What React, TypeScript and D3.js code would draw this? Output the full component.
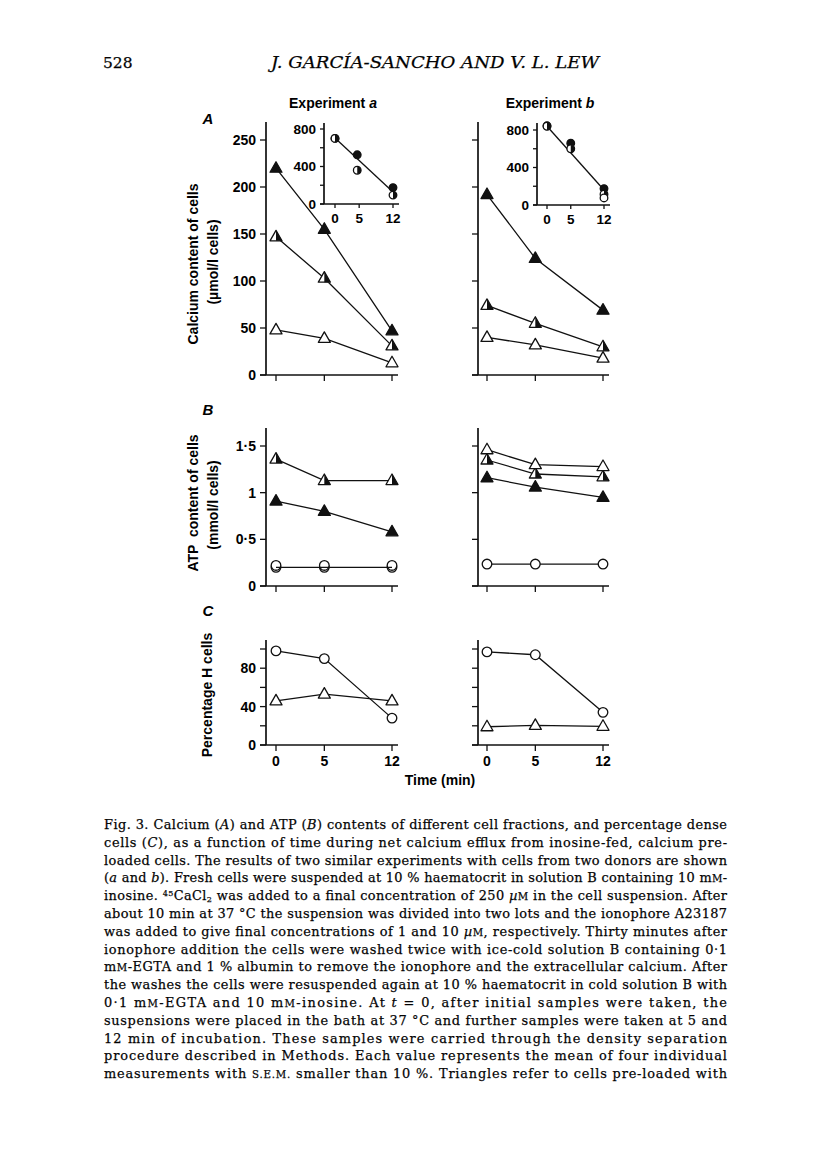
import React, { useEffect, useRef } from 'react';
import * as d3 from 'd3';

const times = [0, 5, 12];

// A: calcium content (µmol/l cells)
const caA_filled = [220, 155, 47];
const caA_half = [147, 103, 31];
const caA_open = [48, 39, 13];
const caB_filled = [192, 124, 69];
const caB_half = [74, 55, 30];
const caB_open = [40, 32, 18];

// insets (A, total calcium)
const insetA_filledT = [0, 4.6, 12];
const insetA_filledV = [700, 525, 175];
const insetA_halfT = [0, 4.6, 12];
const insetA_halfV = [700, 360, 95];
const insetA_fitT = [0, 12];
const insetA_fitV = [704, 128];
const insetB_filledT = [0, 5, 12];
const insetB_filledV = [845, 660, 175];
const insetB_halfT = [0, 5, 12];
const insetB_halfV = [840, 600, 115];
const insetB_openT = [12];
const insetB_openV = [75];
const insetB_fitT = [0, 12];
const insetB_fitV = [840, 160];

// B: ATP content (mmol/l cells)
const atpA_half = [1.36, 1.13, 1.13];
const atpA_filled = [0.91, 0.8, 0.58];
const atpA_circle = [0.22, 0.22, 0.22];
const atpA_circleLow = [0.2, 0.2, 0.2];
const atpB_open = [1.46, 1.3, 1.28];
const atpB_half = [1.35, 1.2, 1.17];
const atpB_filled = [1.16, 1.06, 0.95];
const atpB_circle = [0.235, 0.235, 0.235];

// C: percentage H cells
const hA_circle = [98, 90, 28];
const hA_open = [46, 53, 46];
const hB_circle = [97, 94, 34];
const hB_open = [19, 20.5, 19.5];

const caTicks = [0, 50, 100, 150, 200, 250];
const atpTicks = [0, 0.5, 1, 1.5];
const atpLabels = ['0', '0·5', '1', '1·5'];
const hTicks = [0, 20, 40, 60, 80, 100];
const hLabelTicks = [0, 40, 80];
const insetTicks = [0, 200, 400, 600, 800];
const insetLabelTicks = [0, 400, 800];

// _italic_  ^small caps^  {sup}  [sub]
const caption = [
  'Fig. 3. Calcium (_A_) and ATP (_B_) contents of different cell fractions, and percentage dense',
  'cells (_C_), as a function of time during net calcium efflux from inosine-fed, calcium pre-',
  'loaded cells. The results of two similar experiments with cells from two donors are shown',
  '(_a_ and _b_). Fresh cells were suspended at 10 % haematocrit in solution B containing 10 m^M^-',
  'inosine. {45}CaCl[2] was added to a final concentration of 250 _µ_^M^ in the cell suspension. After',
  'about 10 min at 37 °C the suspension was divided into two lots and the ionophore A23187',
  'was added to give final concentrations of 1 and 10 _µ_^M^, respectively. Thirty minutes after',
  'ionophore addition the cells were washed twice with ice-cold solution B containing 0·1',
  'm^M^-EGTA and 1 % albumin to remove the ionophore and the extracellular calcium. After',
  'the washes the cells were resuspended again at 10 % haematocrit in cold solution B with',
  '0·1 m^M^-EGTA and 10 m^M^-inosine. At _t_ = 0, after initial samples were taken, the',
  'suspensions were placed in the bath at 37 °C and further samples were taken at 5 and',
  '12 min of incubation. These samples were carried through the density separation',
  'procedure described in Methods. Each value represents the mean of four individual',
  'measurements with ^S.E.M.^ smaller than 10 %. Triangles refer to cells pre-loaded with',
];

const SANS = 'Liberation Sans, Arial, Helvetica, sans-serif';
const SERIF = 'DejaVu Serif, serif';

const App = () => {
  const ref = useRef<SVGSVGElement>(null);

  useEffect(() => {
    const svg = d3.select(ref.current);
    svg.selectAll('*').remove();

    const tri = 'M0,-6.5L6,4L-6,4Z';
    const halfTri = 'M0,-6.5L6,4L0,4Z';

    const marker = (g, kind, x, y, r = 4.8) => {
      if (kind === 'circle' || kind === 'filledCircle' || kind === 'halfCircle') {
        g.append('circle').attr('cx', x).attr('cy', y).attr('r', r)
          .attr('fill', kind === 'filledCircle' ? '#111' : '#fff')
          .attr('stroke', '#111').attr('stroke-width', 1.3);
        if (kind === 'halfCircle') {
          g.append('path')
            .attr('d', `M${x},${y - r}A${r},${r} 0 0 1 ${x},${y + r}Z`)
            .attr('fill', '#111');
        }
        return;
      }
      const t = g.append('g').attr('transform', `translate(${x},${y})`);
      t.append('path').attr('d', tri)
        .attr('fill', kind === 'filledTri' ? '#111' : '#fff')
        .attr('stroke', '#111').attr('stroke-width', 1.3).attr('stroke-linejoin', 'round');
      if (kind === 'halfTri') t.append('path').attr('d', halfTri).attr('fill', '#111');
    };

    const connect = (g, x, y, ts, vs) => {
      const line = d3.line<number>().x((d, i) => x(ts[i])).y(d => y(d));
      g.append('path').attr('d', line(vs)).attr('fill', 'none')
        .attr('stroke', '#111').attr('stroke-width', 1.3);
    };

    const series = (g, x, y, ts, vs, kind, withLine = true, r = 4.8) => {
      if (withLine) connect(g, x, y, ts, vs);
      vs.forEach((v, i) => marker(g, kind, x(ts[i]), y(v), r));
    };

    const axes = (g, cfg) => {
      const { axisX, x, y, top, ticks, labels, xLabels, tickLen = 6, fontSize = 14 } = cfg;
      const y0 = y(0);
      g.append('line').attr('x1', axisX).attr('x2', axisX).attr('y1', top).attr('y2', y0)
        .attr('stroke', '#111').attr('stroke-width', 1.7);
      g.append('line').attr('x1', axisX - tickLen).attr('x2', x(12) + 6).attr('y1', y0).attr('y2', y0)
        .attr('stroke', '#111').attr('stroke-width', 1.7);
      ticks.forEach(t => {
        g.append('line').attr('x1', axisX - tickLen).attr('x2', axisX).attr('y1', y(t)).attr('y2', y(t))
          .attr('stroke', '#111').attr('stroke-width', 1.3);
      });
      times.forEach(t => {
        g.append('line').attr('x1', x(t)).attr('x2', x(t)).attr('y1', y0).attr('y2', y0 + tickLen)
          .attr('stroke', '#111').attr('stroke-width', 1.3);
      });
      if (labels) {
        labels.forEach(([t, s]) => {
          g.append('text').attr('x', axisX - tickLen - 4).attr('y', y(t)).attr('dy', '0.36em')
            .attr('text-anchor', 'end').attr('font-family', SANS).attr('font-weight', 'bold')
            .attr('font-size', fontSize).text(s);
        });
      }
      if (xLabels) {
        times.forEach(t => {
          g.append('text').attr('x', x(t)).attr('y', y0 + tickLen + 4).attr('dy', '0.8em')
            .attr('text-anchor', 'middle').attr('font-family', SANS).attr('font-weight', 'bold')
            .attr('font-size', fontSize).text(String(t));
        });
      }
    };

    const g = svg.append('g');
    const cols = [
      { axisX: 266, x: d3.scaleLinear().domain([0, 12]).range([276, 392]) },
      { axisX: 478, x: d3.scaleLinear().domain([0, 12]).range([487, 603]) },
    ];

    // panel A
    const yA = d3.scaleLinear().domain([0, 250]).range([375, 140]);
    const caData = [
      [caA_filled, caA_half, caA_open],
      [caB_filled, caB_half, caB_open],
    ];
    cols.forEach((c, ci) => {
      axes(g, {
        axisX: c.axisX, x: c.x, y: yA, top: 122, ticks: caTicks,
        labels: ci === 0 ? caTicks.map(t => [t, String(t)]) : null,
      });
      const [f, h, o] = caData[ci];
      series(g, c.x, yA, times, o, 'openTri');
      series(g, c.x, yA, times, h, 'halfTri');
      series(g, c.x, yA, times, f, 'filledTri');
    });

    // insets
    const insets = [
      {
        axisX: 324, x: d3.scaleLinear().domain([0, 12]).range([335, 393]),
        y: d3.scaleLinear().domain([0, 800]).range([204, 129]),
        fitT: insetA_fitT, fitV: insetA_fitV,
        pts: [[insetA_filledT, insetA_filledV, 'filledCircle'], [insetA_halfT, insetA_halfV, 'halfCircle']],
      },
      {
        axisX: 537, x: d3.scaleLinear().domain([0, 12]).range([547, 604]),
        y: d3.scaleLinear().domain([0, 800]).range([205, 130]),
        fitT: insetB_fitT, fitV: insetB_fitV,
        pts: [[insetB_filledT, insetB_filledV, 'filledCircle'], [insetB_halfT, insetB_halfV, 'halfCircle'],
          [insetB_openT, insetB_openV, 'circle']],
      },
    ];
    insets.forEach(ins => {
      axes(g, {
        axisX: ins.axisX, x: ins.x, y: ins.y, top: 123, ticks: insetTicks, tickLen: 4,
        labels: insetLabelTicks.map(t => [t, String(t)]), xLabels: true, fontSize: 13.5,
      });
      connect(g, ins.x, ins.y, ins.fitT, ins.fitV);
      ins.pts.forEach(([ts, vs, kind]) => {
        vs.forEach((v, i) => marker(g, kind, ins.x(ts[i]), ins.y(v), 3.8));
      });
    });

    // panel B
    const yB = d3.scaleLinear().domain([0, 1.5]).range([586, 446]);
    cols.forEach((c, ci) => {
      axes(g, {
        axisX: c.axisX, x: c.x, y: yB, top: 428, ticks: atpTicks,
        labels: ci === 0 ? atpTicks.map((t, i) => [t, atpLabels[i]]) : null,
      });
      if (ci === 0) {
        series(g, c.x, yB, times, atpA_circleLow, 'circle', false);
        series(g, c.x, yB, times, atpA_circle, 'circle', false);
        connect(g, c.x, yB, times, atpA_circleLow);
        series(g, c.x, yB, times, atpA_filled, 'filledTri');
        series(g, c.x, yB, times, atpA_half, 'halfTri');
      } else {
        series(g, c.x, yB, times, atpB_circle, 'circle');
        series(g, c.x, yB, times, atpB_filled, 'filledTri');
        series(g, c.x, yB, times, atpB_half, 'halfTri');
        series(g, c.x, yB, times, atpB_open, 'openTri');
      }
    });

    // panel C
    const yC = d3.scaleLinear().domain([0, 100]).range([745, 649]);
    const hData = [[hA_circle, hA_open], [hB_circle, hB_open]];
    cols.forEach((c, ci) => {
      axes(g, {
        axisX: c.axisX, x: c.x, y: yC, top: 640, ticks: hTicks, xLabels: true,
        labels: ci === 0 ? hLabelTicks.map(t => [t, String(t)]) : null,
      });
      series(g, c.x, yC, times, hData[ci][1], 'openTri');
      series(g, c.x, yC, times, hData[ci][0], 'circle');
    });

    // labels
    const label = (x, y, s, opts: any = {}) => {
      const t = g.append('text').attr('font-family', SANS).attr('font-weight', 'bold')
        .attr('font-size', opts.size || 14).attr('text-anchor', opts.anchor || 'middle')
        .style('white-space', 'pre');
      if (opts.rotate) t.attr('transform', `translate(${x},${y}) rotate(-90)`);
      else t.attr('x', x).attr('y', y);
      if (opts.italic) t.attr('font-style', 'italic');
      return t.text(s);
    };
    label(208, 124, 'A', { italic: true, size: 15 });
    label(208, 415, 'B', { italic: true, size: 15 });
    label(208, 616, 'C', { italic: true, size: 15 });
    const ea = label(333, 108, 'Experiment ');
    ea.append('tspan').attr('font-style', 'italic').text('a');
    const eb = label(550, 108, 'Experiment ');
    eb.append('tspan').attr('font-style', 'italic').text('b');
    label(198, 264, 'Calcium content of cells', { rotate: true });
    label(218, 262, '(µmol/l cells)', { rotate: true });
    label(198, 503, 'ATP  content of cells', { rotate: true });
    label(218, 505, '(mmol/l cells)', { rotate: true });
    label(212, 695, 'Percentage H cells', { rotate: true });
    label(440, 785, 'Time (min)');

    // header
    g.append('text').attr('x', 103).attr('y', 68).attr('font-family', SERIF).attr('font-size', 15.5)
      .attr('stroke', '#111').attr('stroke-width', 0.25).text('528');
    g.append('text').attr('x', 271).attr('y', 68).attr('font-family', SERIF).attr('font-size', 17)
      .attr('font-style', 'italic').attr('textLength', 328).attr('lengthAdjust', 'spacingAndGlyphs')
      .attr('stroke', '#111').attr('stroke-width', 0.25)
      .text('J. GARCÍA-SANCHO AND V. L. LEW');

    // caption
    const left = 104, right = 727;
    caption.forEach((ln, i) => {
      const t = g.append('text').attr('x', left).attr('y', 829 + i * 17.8)
        .attr('font-family', SERIF).attr('font-size', 12.9)
        .attr('stroke', '#111').attr('stroke-width', 0.25)
        .attr('textLength', right - left).attr('lengthAdjust', 'spacing')
        .style('white-space', 'pre');
      ln.split(/(_[^_]+_|\^[^^]+\^|\{[^}]+\}|\[[^\]]+\])/).forEach(seg => {
        if (!seg) return;
        const s = t.append('tspan');
        if (seg[0] === '_') s.attr('font-style', 'italic').text(seg.slice(1, -1));
        else if (seg[0] === '^') s.attr('font-size', 10.2).text(seg.slice(1, -1));
        else if (seg[0] === '{') s.attr('font-size', 8).attr('baseline-shift', '45%').text(seg.slice(1, -1));
        else if (seg[0] === '[') s.attr('font-size', 8).attr('baseline-shift', '-25%').text(seg.slice(1, -1));
        else s.text(seg);
      });
    });
  }, []);

  return (
    <svg ref={ref} width={816} height={1166}
      style={{ position: 'absolute', left: 0, top: 0, background: '#fff' }} />
  );
};

export default App;
